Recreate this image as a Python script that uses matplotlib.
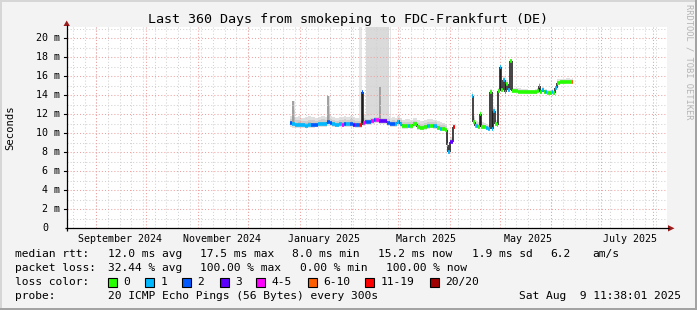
import numpy as np
import pandas as pd
import matplotlib
matplotlib.use("Agg")
import matplotlib.pyplot as plt
from matplotlib.patches import Polygon, Rectangle

plt.rcParams['font.family'] = ['DejaVu Sans Mono', 'DejaVu Sans']

# ------------------------------------------------------------------ data
dates = [
    "2024-12-26T12", "2024-12-27T12", "2024-12-29T00", "2024-12-31T00", "2025-01-02T00",
    "2025-01-04T00", "2025-01-06T00", "2025-01-08T00", "2025-01-10T00", "2025-01-12T00",
    "2025-01-14T00", "2025-01-16T00", "2025-01-17T12", "2025-01-19T00", "2025-01-20T12",
    "2025-01-22T12", "2025-01-24T12", "2025-01-26T12", "2025-01-27T12", "2025-01-29T00",
    "2025-01-31T00", "2025-02-02T00", "2025-02-03T12", "2025-02-05T00", "2025-02-06T06",
    "2025-02-07T06", "2025-02-08T00", "2025-02-09T00", "2025-02-10T12", "2025-02-12T00",
    "2025-02-13T00", "2025-02-14T12", "2025-02-15T12", "2025-02-16T12", "2025-02-17T12",
    "2025-02-19T00", "2025-02-21T00", "2025-02-22T12", "2025-02-24T00", "2025-02-25T12",
    "2025-02-27T00", "2025-02-28T12", "2025-03-01T12", "2025-03-02T12", "2025-03-03T12",
    "2025-03-05T00", "2025-03-07T00", "2025-03-08T12", "2025-03-10T06", "2025-03-12T06",
    "2025-03-14T12", "2025-03-16T12", "2025-03-18T06", "2025-03-20T00", "2025-03-22T00",
    "2025-03-24T06", "2025-03-26T00", "2025-03-27T12", "2025-03-29T00", "2025-03-30T06",
    "2025-03-31T06", "2025-04-01T12", "2025-04-03T06", "2025-04-04T06",
    "2025-04-14T06", "2025-04-15T06", "2025-04-16T00", "2025-04-17T00", "2025-04-18T00",
    "2025-04-19T06", "2025-04-20T00", "2025-04-21T12", "2025-04-23T00", "2025-04-24T06",
    "2025-04-25T12", "2025-04-26T12", "2025-04-27T06", "2025-04-28T12", "2025-04-29T12",
    "2025-04-30T06", "2025-05-01T06", "2025-05-02T00", "2025-05-03T00", "2025-05-04T00",
    "2025-05-05T00", "2025-05-06T00", "2025-05-07T06", "2025-05-08T06", "2025-05-10T00",
    "2025-05-12T00", "2025-05-14T00", "2025-05-16T00", "2025-05-18T00", "2025-05-20T00",
    "2025-05-22T00", "2025-05-23T12", "2025-05-24T12", "2025-05-25T06", "2025-05-26T12",
    "2025-05-27T12", "2025-05-28T12", "2025-05-29T12", "2025-05-31T00", "2025-06-01T12",
    "2025-06-02T06", "2025-06-03T06", "2025-06-04T06", "2025-06-06T00", "2025-06-08T00",
    "2025-06-10T00", "2025-06-12T00", "2025-06-13T12", "2025-06-14T06",
]
nan = float("nan")
median_ms = [
    11.05, 10.95, 10.85, 10.9, 10.85,
    10.8, 10.9, 10.85, 10.9, 11.0,
    10.95, 11.0, 11.15, 11.05, 10.95,
    10.9, 10.95, 10.9, 11.0, 10.95,
    11.0, 10.9, 10.85, 10.9, 10.9,
    14.4, 11.1, 11.15, 11.15, 11.2,
    11.3, 11.35, 11.4, 11.4, 11.3,
    11.3, 11.25, 11.1, 10.95, 11.0,
    10.95, 11.15, 11.2, 11.0, 10.75,
    10.75, 10.8, 10.75, 10.95, 10.65,
    10.6, 10.65, 10.75, 10.8, 10.75,
    10.6, 10.5, 10.45, 10.4, 8.8,
    8.0, 9.1, 10.65, nan,
    13.9, 11.2, 10.8, 10.75, 10.7,
    12.0, 10.7, 10.65, 10.55, 10.45,
    14.4, 10.45, 12.3, 10.95, 10.9,
    14.45, 17.0, 14.6, 15.6, 14.3,
    15.2, 14.6, 17.6, 14.45, 14.45,
    14.4, 14.35, 14.3, 14.3, 14.3,
    14.3, 14.45, 15.0, 14.3, 14.55,
    14.3, 14.4, 14.25, 14.2, 14.35,
    14.2, 14.75, 15.3, 15.35, 15.35,
    15.4, 15.35, 15.4, nan,
]
lost_pings = [
    2, 1, 1, 1, 1,
    1, 1, 2, 2, 1,
    1, 1, 2, 2, 1,
    1, 1, 5, 2, 1,
    2, 3, 2, 2, 15,
    2, 5, 2, 2, 2,
    5, 2, 5, 5, 3,
    3, 3, 2, 2, 2,
    1, 1, 2, 1, 0,
    0, 1, 0, 0, 0,
    0, 0, 1, 0, 1,
    0, 1, 0, 0, 1,
    1, 3, 15, 0,
    1, 0, 0, 1, 0,
    0, 0, 0, 1, 1,
    0, 1, 1, 0, 0,
    0, 1, 0, 1, 1,
    0, 1, 0, 0, 0,
    0, 0, 0, 0, 0,
    0, 0, 1, 0, 1,
    0, 1, 0, 0, 1,
    0, 1, 0, 0, 0,
    0, 0, 8, 0,
]
smoke_hi = [
    11.8, 13.4, 11.7, 11.8, 11.6,
    11.7, 11.8, 11.7, 11.6, 11.7,
    11.8, 11.7, 13.95, 11.8, 11.7,
    11.6, 11.7, 11.7, 11.8, 11.7,
    11.8, 11.7, 11.6, 11.6, 11.5,
    14.5, 11.9, 11.8, 11.8, 11.9,
    11.9, 12.0, 12.0, 12.0, 14.85,
    11.9, 11.9, 11.8, 11.6, 11.7,
    11.6, 11.8, 11.8, 11.6, 11.4,
    11.5, 11.5, 11.4, 11.6, 11.4,
    11.3, 11.4, 11.5, 11.5, 11.4,
    11.3, 11.2, 11.1, 11.0, 10.0,
    8.8, 9.6, 11.0, nan,
    14.3, 11.8, 11.4, 11.3, 11.2,
    12.3, 11.2, 11.1, 11.0, 10.9,
    14.7, 11.0, 12.8, 11.4, 11.3,
    14.8, 17.3, 15.0, 16.0, 14.8,
    15.6, 15.0, 17.8, 14.8, 14.8,
    14.75, 14.7, 14.65, 14.6, 14.6,
    14.65, 14.8, 15.3, 14.65, 14.9,
    14.6, 14.7, 14.6, 14.55, 14.7,
    14.5, 15.0, 15.7, 15.75, 15.75,
    15.8, 15.75, 15.8, nan,
]
smoke_lo = [
    10.7, 10.6, 10.6, 10.6, 10.6,
    10.55, 10.6, 10.6, 10.65, 10.7,
    10.7, 10.7, 10.8, 10.75, 10.7,
    10.65, 10.7, 10.65, 10.7, 10.7,
    10.7, 10.65, 10.6, 10.6, 10.6,
    14.3, 10.8, 10.85, 10.85, 10.9,
    11.0, 11.0, 11.05, 11.05, 11.0,
    11.0, 10.95, 10.8, 10.7, 10.7,
    10.7, 10.8, 10.85, 10.7, 10.5,
    10.5, 10.55, 10.5, 10.7, 10.4,
    10.4, 10.4, 10.5, 10.55, 10.5,
    10.4, 10.3, 10.25, 10.2, 8.5,
    7.8, 8.9, 10.5, nan,
    13.7, 11.0, 10.6, 10.55, 10.5,
    11.8, 10.5, 10.45, 10.4, 10.3,
    14.2, 10.3, 12.0, 10.8, 10.7,
    14.2, 16.8, 14.4, 15.3, 14.1,
    15.0, 14.4, 17.4, 14.3, 14.3,
    14.25, 14.2, 14.15, 14.15, 14.15,
    14.15, 14.3, 14.8, 14.15, 14.4,
    14.15, 14.25, 14.1, 14.05, 14.2,
    14.05, 14.6, 15.15, 15.2, 15.2,
    15.25, 15.2, 15.25, nan,
]

# periods where the smoke runs off the top (timeouts)
timeout_start = ["2025-02-05T18", "2025-02-09T20", "2025-02-24T06"]
timeout_end = ["2025-02-07T12", "2025-02-23T18", "2025-02-25T03"]
timeout_shade = ["#e6e6e6", "#dadada", "#e6e6e6"]

loss_labels = ["0", "1", "2", "3", "4-5", "6-10", "11-19", "20/20"]
loss_upper = [0, 1, 2, 3, 5, 10, 19, 20]
loss_colors = ["#26ff00", "#00b8ff", "#0059ff", "#5e00ff", "#ff00ff",
               "#ff5e00", "#ff0000", "#a00000"]

month_labels = ["September 2024", "November 2024", "January 2025",
                "March 2025", "May 2025", "July 2025"]
ytick_vals = list(range(0, 21, 2))

title = "Last 360 Days from smokeping to FDC-Frankfurt (DE)"
rtt_stats = ["12.0 ms avg", "17.5 ms max", "8.0 ms min", "15.2 ms now", "1.9 ms sd", "6.2", "am/s"]
loss_stats = ["32.44 % avg", "100.00 % max", "0.00 % min", "100.00 % now"]
probe_text = "20 ICMP Echo Pings (56 Bytes) every 300s"
stamp_text = "Sat Aug  9 11:38:01 2025"

assert len(dates) == len(median_ms) == len(lost_pings) == len(smoke_hi) == len(smoke_lo)

# ------------------------------------------------------------------ layout
W, H = 697, 310
PL, PR, PT, PB = 67.0, 667.0, 27.3, 228.3
PX_PER_MS = 9.5
YTOP = (PB - PT) / PX_PER_MS

t_end = pd.Timestamp("2025-08-09 11:38:01")
t_start = t_end - pd.Timedelta(days=360)


def days(d):
    return np.asarray((pd.to_datetime(d) - t_start) / pd.Timedelta(days=1), dtype=float)


def day2px(d):
    return PL + d * (PR - PL) / 360.0


def ms2px(v):
    return PB - v * PX_PER_MS


def loss_color(n):
    for up, c in zip(loss_upper, loss_colors):
        if n <= up:
            return c
    return loss_colors[-1]


fig = plt.figure(figsize=(W / 100, H / 100), dpi=100)
fig.patch.set_facecolor("#f3f3f3")

ax = fig.add_axes([PL / W, 1 - PB / H, (PR - PL) / W, (PB - PT) / H], zorder=1)
ax.set_facecolor("white")
ax.set_xlim(0, 360)
ax.set_ylim(0, YTOP)
for s in ax.spines.values():
    s.set_visible(False)
ax.set_xticks([])
ax.set_yticks([])

x = days(dates)
m = np.array(median_ms, float)
hi = np.array(smoke_hi, float)
lo = np.array(smoke_lo, float)
lp = np.array(lost_pings)

# timeout columns
for s, e, c in zip(timeout_start, timeout_end, timeout_shade):
    xs_, xe_ = float(days(s)), float(days(e))
    base = np.interp(xs_, x[~np.isnan(hi)], hi[~np.isnan(hi)])
    ax.bar(xs_, YTOP - base, width=xe_ - xs_, bottom=base, align="edge",
           color=c, linewidth=0, zorder=1.5, antialiased=False)

# smoke
valid = ~np.isnan(m[:-1])
xs = x[:-1][valid]
wd = np.diff(x)[valid]
mm = m[:-1][valid]
hh = hi[:-1][valid]
ll = lo[:-1][valid]
for frac, col in [(1.0, "#e0e0e0"), (0.6, "#cdcdcd"), (0.3, "#b9b9b9")]:
    top = mm + frac * (hh - mm)
    bot = mm - frac * (mm - ll)
    ax.bar(xs, top - bot, width=wd, bottom=bot, align="edge", color=col,
           linewidth=0, zorder=2, antialiased=False)
# isolated high outliers show as thin grey needles
for xi, wi, mi, hv in zip(xs, wd, mm, hh):
    if hv - mi > 1.5:
        ax.vlines(xi + min(wi, 1.2) / 2, mi, hv, color="#9c9c9c", lw=1.3, zorder=2.5)

# grid (dotted, drawn over smoke)
dash = (0, (1, 2))
weeks = pd.date_range("2024-08-18", t_end, freq="7D")
months = pd.date_range("2024-09-01", t_end, freq="MS")
for d in days(weeks):
    ax.axvline(d, color="#d2d2d2", lw=0.75, ls=dash, zorder=3)
for v in range(1, 22, 2):
    ax.axhline(v, color="#d2d2d2", lw=0.75, ls=dash, zorder=3)
for d in days(months):
    ax.axvline(d, color="#efa0a0", lw=0.75, ls=dash, zorder=3.1)
for v in range(2, 21, 2):
    ax.axhline(v, color="#efa0a0", lw=0.75, ls=dash, zorder=3.1)

# median: black connectors + loss coloured segments
for i in range(1, len(m)):
    if not np.isnan(m[i]) and not np.isnan(m[i - 1]):
        ax.vlines(x[i], m[i - 1], m[i], color="#111111", lw=1.1, zorder=4)
cols = [loss_color(n) for n in lp[:-1][valid]]
ax.hlines(mm, xs, xs + wd, colors=cols, lw=2.6, zorder=5, capstyle="butt")

# ------------------------------------------------------------------ chrome overlay
ov = fig.add_axes([0, 0, 1, 1], zorder=3)
ov.set_xlim(0, W)
ov.set_ylim(H, 0)
ov.axis("off")
ov.patch.set_alpha(0)

# 3D frame
ov.add_patch(Rectangle((0, 0), W, 2, color="#d6d6d6", lw=0))
ov.add_patch(Rectangle((0, 0), 2, H, color="#d6d6d6", lw=0))
ov.add_patch(Rectangle((W - 2, 0), 2, H, color="#a3a3a3", lw=0))
ov.add_patch(Rectangle((0, H - 2), W, 2, color="#a3a3a3", lw=0))

# axes with arrows
ov.plot([64.5, 669], [PB, PB], color="black", lw=0.9, solid_capstyle="butt")
ov.plot([PL - 0.3, PL - 0.3], [231, 25], color="black", lw=0.9, solid_capstyle="butt")
ov.add_patch(Polygon([[668, PB - 3.2], [668, PB + 3.2], [674.5, PB]], closed=True,
                     color="#9b1c1c", lw=0))
ov.add_patch(Polygon([[PL - 3.5, 26], [PL + 2.9, 26], [PL - 0.3, 20.5]], closed=True,
                     color="#9b1c1c", lw=0))

# y tick labels and ticks
for v in ytick_vals:
    yp = ms2px(v)
    if v == 0:
        ov.text(48.5, yp, "0", ha="right", va="center", fontsize=7.2)
    else:
        ov.text(60.3, yp, f"{v} m", ha="right", va="center", fontsize=7.2)
        ov.plot([64, PL], [yp, yp], color="black", lw=0.8)

# x labels (every second month)
first_lab = pd.Timestamp("2024-09-15 12:00")
for k, lab in enumerate(month_labels):
    d = float(days(first_lab + pd.Timedelta(days=61.2 * k)))
    ov.text(day2px(d), 238.5, lab, ha="center", va="center", fontsize=7.2)

ov.text(348, 19, title, ha="center", va="center", fontsize=9.6)
ov.text(10, (PT + PB) / 2, "Seconds", rotation=90, ha="center", va="center", fontsize=7.6)
ov.text(688.5, 4, "RRDTOOL / TOBI OETIKER", rotation=270, ha="center", va="top",
        fontsize=6.3, color="#b4b4b4")

# legend block
FS = 8.1
ov.text(15, 254, "median rtt:", ha="left", va="center", fontsize=FS)
for xp, s in zip([107.5, 199.5, 292.5, 378.5, 471.5, 550.5, 592.5], rtt_stats):
    ov.text(xp, 254, s, ha="left", va="center", fontsize=FS)
ov.text(15, 268, "packet loss:", ha="left", va="center", fontsize=FS)
for xp, s in zip([107.5, 199.5, 299.5, 386.5], loss_stats):
    ov.text(xp, 268, s, ha="left", va="center", fontsize=FS)
ov.text(15, 282, "loss color:", ha="left", va="center", fontsize=FS)
box_x = [108, 145, 182, 220, 256, 308, 365, 430]
for bx, lab, c in zip(box_x, loss_labels, loss_colors):
    ov.add_patch(Rectangle((bx, 277.5), 8.5, 9, facecolor=c, edgecolor="black", lw=0.8))
    ov.text(bx + 15.5, 282, lab, ha="left", va="center", fontsize=FS)
ov.text(15, 296, "probe:", ha="left", va="center", fontsize=FS)
ov.text(107.5, 296, probe_text, ha="left", va="center", fontsize=FS)
ov.text(681, 296, stamp_text, ha="right", va="center", fontsize=FS)

fig.savefig("out.png", dpi=100, facecolor=fig.get_facecolor())
